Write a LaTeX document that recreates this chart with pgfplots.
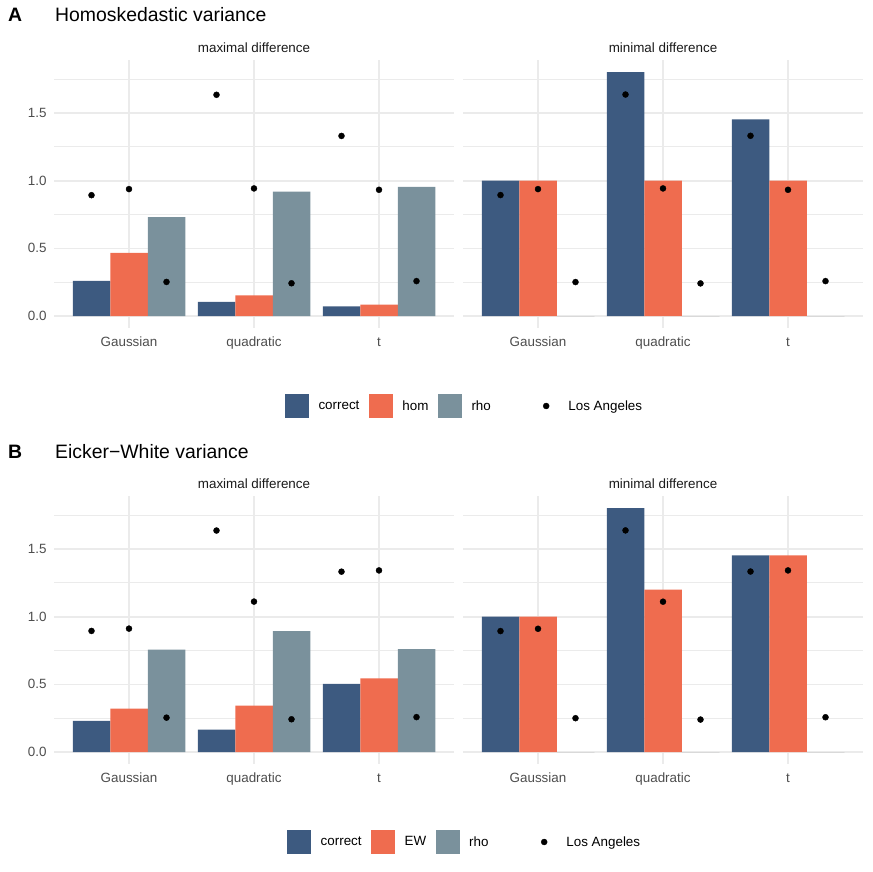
\documentclass[border=0pt]{standalone}
\usepackage{pgfplots}
\pgfplotsset{compat=1.18}
\usepackage{pgfplotstable}
\usepackage{fontspec}
\setmainfont{Liberation Sans}
\definecolor{corr}{HTML}{3D5A80}
\definecolor{homc}{HTML}{EF6C4F}
\definecolor{rhoc}{HTML}{7A919C}
\definecolor{gridc}{HTML}{EBEBEB}
\definecolor{tickc}{HTML}{4D4D4D}
\definecolor{stripc}{HTML}{1A1A1A}

\pgfplotstableread{
cat correct hom rho dcorrect dhom drho
1 0.259 0.466 0.730 0.893 0.938 0.252
2 0.104 0.153 0.920 1.635 0.943 0.242
3 0.072 0.084 0.955 1.331 0.933 0.258
}\maxA
\pgfplotstableread{
cat correct hom rho dcorrect dhom drho
1 1.000 1.000 0 0.894 0.938 0.251
2 1.802 1.000 0 1.637 0.943 0.241
3 1.453 1.000 0 1.332 0.933 0.258
}\minA
\pgfplotstableread{
cat correct hom rho dcorrect dhom drho
1 0.230 0.321 0.756 0.895 0.912 0.254
2 0.166 0.343 0.894 1.637 1.112 0.242
3 0.504 0.544 0.761 1.333 1.342 0.258
}\maxB
\pgfplotstableread{
cat correct hom rho dcorrect dhom drho
1 1.000 1.000 0 0.894 0.911 0.250
2 1.802 1.200 0 1.638 1.111 0.240
3 1.453 1.453 0 1.334 1.342 0.257
}\minB

\newcommand\fs{\fontsize{13.4}{16}\selectfont}

\pgfplotsset{
  facet/.style={
    scale only axis, width=400pt, height=267.9pt,
    xmin=0.4, xmax=3.6, ymin=-0.09, ymax=1.89,
    xtick={1,2,3}, xticklabels={Gaussian,quadratic,t},
    ytick={0,0.5,1,1.5}, minor ytick={0.25,0.75,1.25,1.75},
    xmajorgrids, ymajorgrids, yminorgrids,
    major grid style={gridc, line width=1.6pt},
    minor grid style={gridc, line width=0.9pt},
    axis line style={draw=none}, tick style={draw=none},
    major tick length=0pt, minor tick length=0pt,
    xticklabel style={font=\fs, text=tickc, anchor=base, inner sep=0pt, yshift=-18.5pt},
    yticklabel style={font=\fs, text=tickc, anchor=east, inner sep=0pt, xshift=-7.3pt},
    every axis title/.style={at={(0.5,1)}, anchor=base, yshift=8pt, inner sep=0pt, font=\fs, text=stripc},
    legend cell align=left,
  },
  barc/.style={ybar, bar width=37.5pt, bar shift=-37.5pt, fill=corr, draw=none,
    legend image code/.code={\fill[corr] (0pt,-12pt) rectangle (24pt,12pt);}},
  barh/.style={ybar, bar width=37.5pt, bar shift=0pt, fill=homc, draw=none,
    legend image code/.code={\fill[homc] (0pt,-12pt) rectangle (24pt,12pt);}},
  barr/.style={ybar, bar width=37.5pt, bar shift=37.5pt, fill=rhoc, draw=none,
    legend image code/.code={\fill[rhoc] (0pt,-12pt) rectangle (24pt,12pt);}},
  dots/.style={only marks, mark=*, mark size=3pt, black,
    legend image code/.code={\fill[black] (0pt,0pt) circle (3pt);}},
}

\begin{document}
\begin{tikzpicture}[x=1pt,y=1pt]
\useasboundingbox (0pt,0pt) rectangle (872pt,872pt);

% ---------- Panel A ----------
\node[anchor=base west, inner sep=0pt, font=\fontsize{19.4}{22}\selectfont\bfseries] at (8pt,850.3pt) {A};
\node[anchor=base west, inner sep=0pt, font=\fontsize{19.4}{22}\selectfont] at (55pt,850.3pt) {Homoskedastic variance};

\begin{axis}[facet, at={(54pt,543.8pt)}, anchor=south west,
  title={maximal difference}, yticklabels={0.0,0.5,1.0,1.5},
  legend columns=3,
  legend style={draw=none, fill=none, at={(0.5775,-0.2904)}, anchor=west,
    inner sep=0pt, outer sep=0pt, column sep=9.5pt,
    nodes={inner sep=0pt, font=\fs, text=black}}]
\addplot[barc] table[x=cat,y=correct]{\maxA}; \addlegendentry{correct}
\addplot[barh] table[x=cat,y=hom]{\maxA}; \addlegendentry{hom}
\addplot[barr] table[x=cat,y=rho]{\maxA}; \addlegendentry{rho}
\addplot[dots, forget plot] table[x expr=\thisrow{cat}-0.3, y=dcorrect]{\maxA};
\addplot[dots, forget plot] table[x=cat, y=dhom]{\maxA};
\addplot[dots, forget plot] table[x expr=\thisrow{cat}+0.3, y=drho]{\maxA};
\end{axis}

\begin{axis}[facet, at={(463pt,543.8pt)}, anchor=south west,
  title={minimal difference}, yticklabels={},
  legend style={draw=none, fill=none, at={(0.2,-0.2904)}, anchor=west,
    inner sep=0pt, outer sep=0pt, column sep=19pt,
    nodes={inner sep=0pt, font=\fs, text=black}}]
\addplot[barc, forget plot] table[x=cat,y=correct]{\minA};
\addplot[barh, forget plot] table[x=cat,y=hom]{\minA};
\addplot[barr, draw=gray!30, line width=0.8pt, forget plot] table[x=cat,y=rho]{\minA};
\addplot[dots] table[x expr=\thisrow{cat}-0.3, y=dcorrect]{\minA}; \addlegendentry{Los Angeles}
\addplot[dots, forget plot] table[x=cat, y=dhom]{\minA};
\addplot[dots, forget plot] table[x expr=\thisrow{cat}+0.3, y=drho]{\minA};
\end{axis}

% ---------- Panel B ----------
\node[anchor=base west, inner sep=0pt, font=\fontsize{19.4}{22}\selectfont\bfseries] at (8pt,413.7pt) {B};
\node[anchor=base west, inner sep=0pt, font=\fontsize{19.4}{22}\selectfont] at (55pt,413.7pt) {Eicker−White variance};

\begin{axis}[facet, at={(54pt,107.8pt)}, anchor=south west,
  title={maximal difference}, yticklabels={0.0,0.5,1.0,1.5},
  legend columns=3,
  legend style={draw=none, fill=none, at={(0.583,-0.2904)}, anchor=west,
    inner sep=0pt, outer sep=0pt, column sep=9.5pt,
    nodes={inner sep=0pt, font=\fs, text=black}}]
\addplot[barc] table[x=cat,y=correct]{\maxB}; \addlegendentry{correct}
\addplot[barh] table[x=cat,y=hom]{\maxB}; \addlegendentry{EW}
\addplot[barr] table[x=cat,y=rho]{\maxB}; \addlegendentry{rho}
\addplot[dots, forget plot] table[x expr=\thisrow{cat}-0.3, y=dcorrect]{\maxB};
\addplot[dots, forget plot] table[x=cat, y=dhom]{\maxB};
\addplot[dots, forget plot] table[x expr=\thisrow{cat}+0.3, y=drho]{\maxB};
\end{axis}

\begin{axis}[facet, at={(463pt,107.8pt)}, anchor=south west,
  title={minimal difference}, yticklabels={},
  legend style={draw=none, fill=none, at={(0.195,-0.2904)}, anchor=west,
    inner sep=0pt, outer sep=0pt, column sep=19pt,
    nodes={inner sep=0pt, font=\fs, text=black}}]
\addplot[barc, forget plot] table[x=cat,y=correct]{\minB};
\addplot[barh, forget plot] table[x=cat,y=hom]{\minB};
\addplot[barr, draw=gray!30, line width=0.8pt, forget plot] table[x=cat,y=rho]{\minB};
\addplot[dots] table[x expr=\thisrow{cat}-0.3, y=dcorrect]{\minB}; \addlegendentry{Los Angeles}
\addplot[dots, forget plot] table[x=cat, y=dhom]{\minB};
\addplot[dots, forget plot] table[x expr=\thisrow{cat}+0.3, y=drho]{\minB};
\end{axis}
\end{tikzpicture}
\end{document}
